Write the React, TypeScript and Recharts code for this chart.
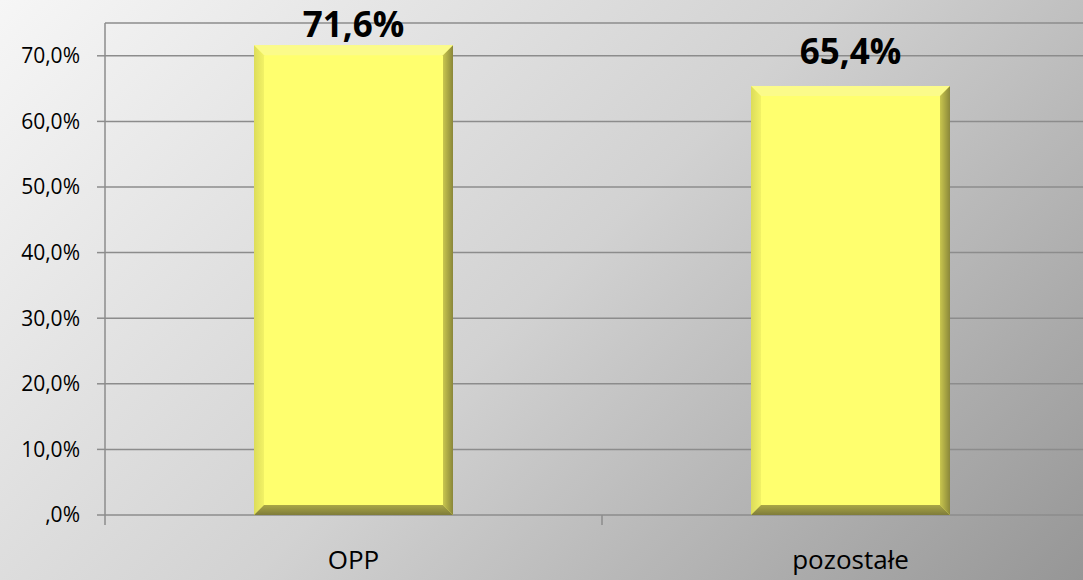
import { BarChart, Bar, XAxis, YAxis, CartesianGrid, LabelList } from 'recharts';

const categories = ['OPP', 'pozostałe'];
const values = [0.716, 0.654];
const yTicks = [0, 0.1, 0.2, 0.3, 0.4, 0.5, 0.6, 0.7];

const data = categories.map((name, i) => ({ name, value: values[i] }));

const CHART_W = 1120;
const PLOT_LEFT = 105;
const PLOT_RIGHT = 21;
const bandW = (CHART_W - PLOT_LEFT - PLOT_RIGHT) / categories.length;

const formatPct = (v: number) => {
  const s = (v * 100).toFixed(1).replace('.', ',');
  return (s.startsWith('0,') ? s.slice(1) : s) + '%';
};

// bar with a bevelled edge, like the Office "bevel" effect
const BevelBar = (props: any) => {
  const { x, y, width, height } = props;
  const b = 10;
  const r = x + width;
  const btm = y + height;
  return (
    <g>
      <defs>
        <linearGradient id="bevR" x1="0" y1="0" x2="1" y2="0">
          <stop offset="0%" stopColor="#c9c64e" />
          <stop offset="100%" stopColor="#8a873a" />
        </linearGradient>
        <linearGradient id="bevB" x1="0" y1="0" x2="0" y2="1">
          <stop offset="0%" stopColor="#a9a647" />
          <stop offset="100%" stopColor="#7f7c3a" />
        </linearGradient>
        <linearGradient id="bevL" x1="0" y1="0" x2="1" y2="0">
          <stop offset="0%" stopColor="#dcdc5a" />
          <stop offset="100%" stopColor="#f2f266" />
        </linearGradient>
      </defs>
      <rect x={x} y={y} width={width} height={height} fill="#ffff6e" />
      <polygon points={`${x},${y} ${r},${y} ${r - b},${y + b} ${x + b},${y + b}`} fill="#fbfb8a" />
      <polygon points={`${x},${y} ${x + b},${y + b} ${x + b},${btm - b} ${x},${btm}`} fill="url(#bevL)" />
      <polygon points={`${r},${y} ${r},${btm} ${r - b},${btm - b} ${r - b},${y + b}`} fill="url(#bevR)" />
      <polygon points={`${x},${btm} ${x + b},${btm - b} ${r - b},${btm - b} ${r},${btm}`} fill="url(#bevB)" />
    </g>
  );
};

const ValueLabel = (props: any) => {
  const { x, y, width, value } = props;
  const baseY = Math.max(y - 22, 37);
  return (
    <text
      x={x + width / 2}
      y={baseY}
      textAnchor="middle"
      fontFamily="'Open Sans', sans-serif"
      fontWeight="bold"
      fontSize={35}
      fill="#000"
    >
      {formatPct(value)}
    </text>
  );
};

const CategoryTick = (props: any) => {
  const { x, y, payload } = props;
  return (
    <g>
      <line x1={x - bandW / 2} y1={y - 8} x2={x - bandW / 2} y2={y + 2} stroke="#8c8c8c" strokeWidth={1.5} />
      <text x={x} y={y + 46} textAnchor="middle" fontFamily="'Open Sans', sans-serif" fontSize={26} fill="#000">
        {payload.value}
      </text>
    </g>
  );
};

export default function App() {
  return (
    <div
      style={{
        position: 'absolute',
        left: 0,
        top: 0,
        width: 1083,
        height: 580,
        overflow: 'hidden',
        background: 'linear-gradient(135deg, #f6f6f6 0%, #d2d2d2 50%, #969696 100%)',
      }}
    >
      <BarChart
        width={CHART_W}
        height={580}
        data={data}
        margin={{ top: 23, right: PLOT_RIGHT, left: 0, bottom: 5 }}
      >
        <CartesianGrid vertical={false} stroke="#8c8c8c" strokeWidth={1.5} />
        <XAxis
          dataKey="name"
          axisLine={false}
          tickLine={false}
          height={60}
          tick={<CategoryTick />}
          interval={0}
        />
        <YAxis
          width={PLOT_LEFT}
          domain={[0, 0.75]}
          ticks={yTicks}
          tickFormatter={formatPct}
          axisLine={{ stroke: '#8c8c8c', strokeWidth: 1.5 }}
          tickLine={{ stroke: '#8c8c8c', strokeWidth: 1.5 }}
          tickSize={8}
          tickMargin={17}
          tick={{ fill: '#000', fontSize: 21, fontFamily: "'Open Sans', sans-serif" }}
        />
        <Bar dataKey="value" shape={<BevelBar />} isAnimationActive={false} barSize={199}>
          <LabelList dataKey="value" content={<ValueLabel />} />
        </Bar>
      </BarChart>
    </div>
  );
}
